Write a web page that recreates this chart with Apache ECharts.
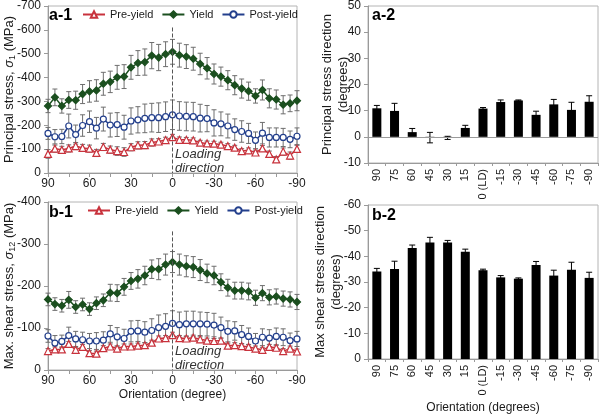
<!DOCTYPE html>
<html><head><meta charset="utf-8">
<script src="https://cdn.jsdelivr.net/npm/echarts@6/dist/echarts.min.js"></script>
<style>html,body{margin:0;padding:0;background:#fff}#c{width:600px;height:415px}</style>
</head><body><div id="c"></div>
<script>
// ---------- data ----------
const orientation = [90,85,80,75,70,65,60,55,50,45,40,35,30,25,20,15,10,5,0,-5,-10,-15,-20,-25,-30,-35,-40,-45,-50,-55,-60,-65,-70,-75,-80,-85,-90];

// a-1: principal stress (MPa)
const a1Pre   = [-80,-102,-97,-103,-113,-105,-102,-84,-109,-98,-92,-88,-108,-116,-117,-128,-132,-138,-150,-139,-139,-137,-127,-124,-123,-119,-113,-106,-92,-95,-86,-103,-80,-57,-90,-73,-101];
const a1PreErr = [18,15,15,15,15,15,15,15,15,15,18,18,15,15,15,15,12,12,12,12,10,10,10,10,10,10,10,10,10,10,10,12,12,12,15,15,15];
const a1Yield = [-281,-317,-281,-306,-305,-331,-342,-346,-374,-382,-401,-404,-443,-461,-465,-492,-484,-498,-508,-494,-488,-479,-457,-439,-415,-404,-389,-368,-354,-343,-323,-348,-313,-308,-286,-292,-303];
const a1YieldErr = [28,35,30,35,38,40,45,45,48,45,50,50,50,52,55,55,55,52,52,50,50,48,45,45,42,40,40,40,40,38,30,42,40,40,38,35,42];
const a1Post  = [-166,-152,-153,-197,-161,-199,-215,-188,-226,-201,-203,-192,-218,-223,-229,-232,-232,-236,-244,-239,-237,-236,-230,-228,-210,-206,-197,-182,-174,-166,-137,-167,-149,-149,-149,-141,-154];
const a1PostErr = [25,30,30,50,40,45,45,45,50,50,50,50,55,55,60,60,62,62,62,60,60,60,58,55,55,50,50,45,45,42,35,45,40,40,38,35,35];

// b-1: max shear stress (MPa)
const b1Pre   = [-45,-49,-49,-62,-48,-55,-40,-39,-52,-56,-51,-56,-56,-58,-59,-65,-75,-76,-83,-76,-75,-77,-73,-70,-69,-70,-58,-59,-57,-55,-51,-48,-55,-53,-45,-51,-44];
const b1PreErr = [6,6,6,6,6,6,6,6,6,6,6,6,6,6,6,6,6,6,7,6,6,6,6,6,6,6,6,6,6,6,6,6,6,6,6,6,6];
const b1Yield = [-168,-157,-153,-167,-150,-156,-145,-159,-166,-184,-183,-198,-212,-217,-225,-240,-240,-251,-257,-251,-247,-245,-238,-230,-225,-209,-196,-189,-189,-187,-172,-183,-173,-175,-170,-168,-162];
const b1YieldErr = [15,15,15,20,15,15,15,15,15,20,20,20,20,22,22,22,25,25,25,25,25,25,25,22,22,20,20,20,20,20,18,18,18,18,18,18,18];
const b1Post  = [-81,-64,-68,-82,-74,-72,-69,-69,-71,-86,-79,-75,-92,-93,-90,-94,-101,-104,-111,-108,-110,-110,-110,-109,-107,-101,-92,-93,-84,-80,-69,-78,-76,-80,-78,-70,-74];
const b1PostErr = [15,18,15,20,18,18,18,20,20,20,22,22,25,25,25,28,30,30,30,30,30,30,28,28,28,25,25,22,22,20,18,20,20,20,20,18,18];

// a-2 / b-2 bars
const barCats = ['90','75','60','45','30','15','0 (LD)','-15','-30','-45','-60','-75','-90'];
const a2Val = [10.9,9.9,1.8,-0.3,-0.4,3.4,10.8,13.3,13.9,8.4,12.4,10.3,13.4];
const a2Err = [1.1,2.9,1.4,2.0,0.6,1.0,0.4,0.8,0.2,1.4,1.9,2.9,2.3];
const b2Val = [-34.1,-35.1,-43.2,-45.4,-45.4,-41.8,-34.6,-31.8,-31.3,-36.6,-32.5,-34.8,-31.6];
const b2Err = [1.2,3.0,1.2,2.0,0.8,1.0,0.4,0.7,0.3,1.4,2.1,2.9,2.2];

// ---------- helpers ----------
const FONT = 'Liberation Sans, Arial, sans-serif';
const TXT = '#1a1a1a';
const AXC = '#9a9a9a';
const RED = '#c8323c', GREEN = '#1b4f1f', BLUE = '#233f8c', ERRC = '#6e6e6e';
const TICKFS = 11;

function pairs(xs, ys){ return xs.map((x,i)=>[x, ys[i]]); }
function errData(xs, ys, es){ return xs.map((x,i)=>[x, ys[i]-es[i], ys[i]+es[i]]); }
function errRender(capW, color, lw){
  return function(params, api){
    const x = api.value(0), lo = api.value(1), hi = api.value(2);
    const p1 = api.coord([x, lo]), p2 = api.coord([x, hi]);
    const st = {stroke: color, lineWidth: lw, fill: null};
    return {type:'group', children:[
      {type:'line', shape:{x1:p1[0],y1:p1[1],x2:p2[0],y2:p2[1]}, style:st},
      {type:'line', shape:{x1:p1[0]-capW,y1:p1[1],x2:p1[0]+capW,y2:p1[1]}, style:st},
      {type:'line', shape:{x1:p2[0]-capW,y1:p2[1],x2:p2[0]+capW,y2:p2[1]}, style:st}
    ]};
  };
}
function errSeries(xi, yi, data, capW, color, lw, z){
  return {type:'custom', name:'err'+xi+'_'+z, xAxisIndex:xi, yAxisIndex:yi, data:data,
    renderItem: errRender(capW, color, lw), encode:{x:0, y:[1,2]}, z:z, silent:true, clip:false};
}
function lineSeries(name, xi, data, color, symbol, size, filled){
  return {type:'line', name:name, xAxisIndex:xi, yAxisIndex:xi, data:data,
    symbol:symbol, symbolSize:size, showAllSymbol:true,
    lineStyle:{color:color, width:1.5},
    itemStyle:{color: filled ? color : '#fff', borderColor:color, borderWidth:1.2},
    z:4, animation:false};
}
const rich = {
  t:{fontSize:13, fontFamily:FONT, color:TXT, lineHeight:16},
  i:{fontSize:13, fontFamily:FONT, color:TXT, fontStyle:'italic', lineHeight:16},
  s:{fontSize:9, fontFamily:FONT, color:TXT, verticalAlign:'bottom', lineHeight:16}
};
function lineX(gi, name){
  return {type:'value', gridIndex:gi, inverse:true, min:-90, max:90, interval:30,
    axisLine:{onZero:false, lineStyle:{color:AXC}},
    axisTick:{show:true, length:4, lineStyle:{color:AXC}},
    minorTick:{show:true, splitNumber:2, length:4, lineStyle:{color:AXC}},
    splitLine:{show:false},
    axisLabel:{fontSize:TICKFS+1, color:TXT, fontFamily:FONT, margin:5},
    name:name, nameLocation:'middle', nameGap:19, nameMoveOverlap:false,
    nameTextStyle:{fontSize:12, color:TXT, fontFamily:FONT}};
}
function valY(gi, min, max, interval, inverse, name, gap){
  return {type:'value', gridIndex:gi, min:min, max:max, interval:interval, inverse:inverse,
    axisLine:{show:true, onZero:false, lineStyle:{color:AXC}},
    axisTick:{show:true, length:4, lineStyle:{color:AXC}},
    splitLine:{show:false},
    axisLabel:{fontSize:TICKFS+1, color:TXT, fontFamily:FONT, margin:7},
    name:name, nameLocation:'middle', nameGap:gap, nameMoveOverlap:false,
    nameTextStyle:{fontSize:13, color:TXT, fontFamily:FONT, rich:rich, lineHeight:16}};
}
function catX(gi, name){
  return {type:'category', gridIndex:gi, data:barCats,
    axisLine:{onZero:false, lineStyle:{color:AXC}},
    axisTick:{show:true, length:3, lineStyle:{color:AXC}},
    axisLabel:{rotate:90, fontSize:TICKFS, color:TXT, fontFamily:FONT, margin:6, interval:0},
    name:name, nameLocation:'middle', nameGap:43, nameMoveOverlap:false,
    nameTextStyle:{fontSize:12, color:TXT, fontFamily:FONT}};
}
const legendBase = {data:['Pre-yield','Yield','Post-yield'], itemWidth:22, itemHeight:8, itemGap:8,
  padding:0, textStyle:{fontSize:11, color:TXT, fontFamily:FONT}, selectedMode:false};

const gridStyle = {show:true, borderColor:'#b4b4b4', borderWidth:1, containLabel:false};

const chart = echarts.init(document.getElementById('c'), null, {renderer:'canvas'});
chart.setOption({
  animation:false,
  textStyle:{fontFamily:FONT},
  grid:[
    Object.assign({left:47, top:5, width:250, height:168}, gridStyle),
    Object.assign({left:368, top:5, width:230, height:158}, gridStyle),
    Object.assign({left:47, top:202, width:250, height:168}, gridStyle),
    Object.assign({left:368, top:205, width:230, height:158}, gridStyle)
  ],
  legend:[
    Object.assign({left:82, top:9}, legendBase),
    Object.assign({left:87, top:205}, legendBase)
  ],
  xAxis:[
    lineX(0, ''),
    catX(1, ''),
    lineX(2, 'Orientation (degree)'),
    catX(3, 'Orientation (degrees)')
  ],
  yAxis:[
    valY(0, -700, 0, 100, true, '{t|Principal stress, }{i|σ}{s|1}{t| (MPa)}', 31),
    valY(1, -10, 50, 10, false, 'Principal stress direction\n(degrees)', 17),
    valY(2, -400, 0, 100, true, '{t|Max. shear stress, }{i|σ}{s|12}{t| (MPa)}', 31),
    valY(3, -60, 0, 10, true, 'Max shear stress direction\n(degrees)', 24)
  ],
  series:[
    // a-1
    errSeries(0,0, errData(orientation, a1Yield, a1YieldErr), 2.5, ERRC, 1, 2),
    errSeries(0,0, errData(orientation, a1Post, a1PostErr), 2.5, ERRC, 1, 2),
    errSeries(0,0, errData(orientation, a1Pre, a1PreErr), 2.5, ERRC, 1, 2),
    Object.assign(lineSeries('Pre-yield', 0, pairs(orientation, a1Pre), RED, 'triangle', 7, false), {
      markLine:{silent:true, symbol:'none', label:{show:false},
        lineStyle:{color:'#555', type:'dashed', width:1},
        data:[[{coord:[0,-610]},{coord:[0,0]}]]}
    }),
    lineSeries('Yield', 0, pairs(orientation, a1Yield), GREEN, 'diamond', 7, true),
    lineSeries('Post-yield', 0, pairs(orientation, a1Post), BLUE, 'circle', 6, false),
    // a-2
    {type:'bar', name:'a2', xAxisIndex:1, yAxisIndex:1, data:a2Val, barWidth:9,
      itemStyle:{color:'#000'}, z:2,
      markLine:{silent:true, symbol:'none', label:{show:false},
        lineStyle:{color:AXC, type:'solid', width:1}, data:[{yAxis:0}]}},
    errSeries(1,1, barCats.map((c,i)=>[c, a2Val[i]-a2Err[i], a2Val[i]+a2Err[i]]), 3, '#000', 1, 3),
    // b-1
    errSeries(2,2, errData(orientation, b1Yield, b1YieldErr), 2.5, ERRC, 1, 2),
    errSeries(2,2, errData(orientation, b1Post, b1PostErr), 2.5, ERRC, 1, 2),
    errSeries(2,2, errData(orientation, b1Pre, b1PreErr), 2.5, ERRC, 1, 2),
    Object.assign(lineSeries('Pre-yield', 2, pairs(orientation, b1Pre), RED, 'triangle', 7, false), {
      markLine:{silent:true, symbol:'none', label:{show:false},
        lineStyle:{color:'#555', type:'dashed', width:1},
        data:[[{coord:[0,-330]},{coord:[0,0]}]]}
    }),
    lineSeries('Yield', 2, pairs(orientation, b1Yield), GREEN, 'diamond', 7, true),
    lineSeries('Post-yield', 2, pairs(orientation, b1Post), BLUE, 'circle', 6, false),
    // b-2
    {type:'bar', name:'b2', xAxisIndex:3, yAxisIndex:3, data:b2Val, barWidth:9,
      itemStyle:{color:'#000'}, z:2},
    errSeries(3,3, barCats.map((c,i)=>[c, b2Val[i]-b2Err[i], b2Val[i]+b2Err[i]]), 3, '#000', 1, 3)
  ],
  graphic:[
    {type:'text', left:49, top:8, style:{text:'a-1', font:'bold 16px '+FONT, fill:'#000'}},
    {type:'text', left:372, top:8, style:{text:'a-2', font:'bold 16px '+FONT, fill:'#000'}},
    {type:'text', left:49, top:205, style:{text:'b-1', font:'bold 16px '+FONT, fill:'#000'}},
    {type:'text', left:372, top:208, style:{text:'b-2', font:'bold 16px '+FONT, fill:'#000'}},
    {type:'text', left:175, top:147, style:{text:'Loading\ndirection', font:'italic 13px '+FONT, fill:'#333', lineHeight:14}},
    {type:'text', left:175, top:344, style:{text:'Loading\ndirection', font:'italic 13px '+FONT, fill:'#333', lineHeight:14}}
  ]
});
</script>
</body></html>
